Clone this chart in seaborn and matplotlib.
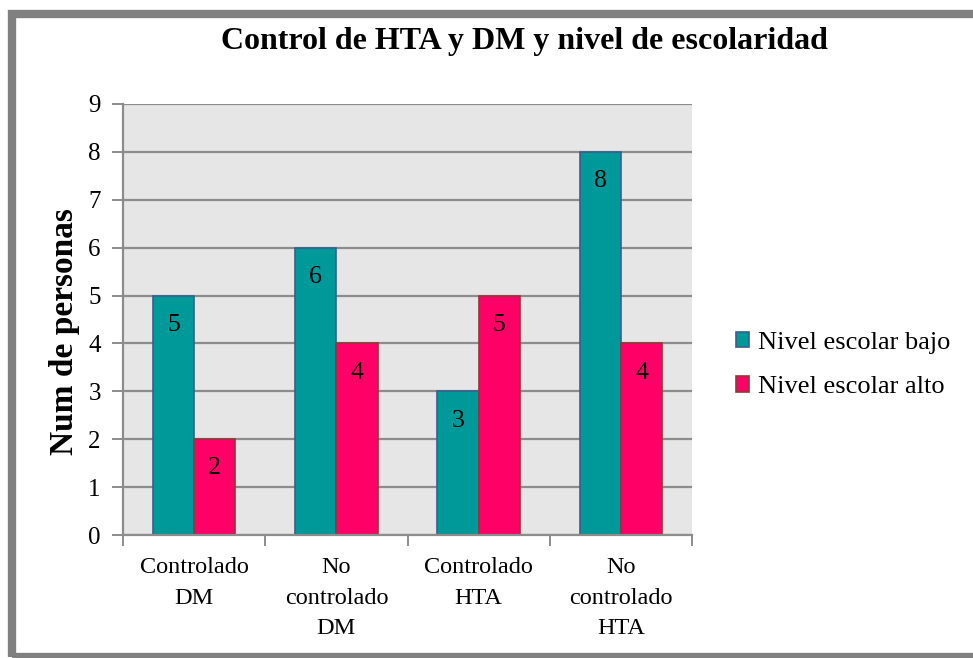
import matplotlib
matplotlib.use("Agg")
import matplotlib.pyplot as plt
import seaborn as sns
import pandas as pd
from matplotlib.patches import Rectangle, Patch

categories = ["Controlado\nDM", "No\ncontrolado\nDM", "Controlado\nHTA", "No\ncontrolado\nHTA"]
series_names = ["Nivel escolar bajo", "Nivel escolar alto"]
bajo = [5, 6, 3, 8]
alto = [2, 4, 5, 4]
yticks = list(range(0, 10))

title = "Control de HTA y DM y nivel de escolaridad"
ylabel = "Num de personas"

fill_colors = ["#009999", "#FF0066"]
edge_colors = ["#3B5E8C", "#8E3A3A"]

df = pd.DataFrame({
    "cat": categories * 2,
    "serie": [series_names[0]] * 4 + [series_names[1]] * 4,
    "val": bajo + alto,
})

sns.set_theme(style="white")
plt.rcParams["font.family"] = ["Liberation Serif", "DejaVu Serif"]
plt.rcParams["text.color"] = "black"
plt.rcParams["xtick.color"] = "black"
plt.rcParams["ytick.color"] = "black"
plt.rcParams["axes.labelcolor"] = "black"

fig = plt.figure(figsize=(9.73, 6.58), dpi=100)
ax = fig.add_axes([123 / 973, 1 - 535 / 658, (692 - 123) / 973, (535 - 104) / 658])

sns.barplot(data=df, x="cat", y="val", hue="serie", order=categories,
            hue_order=series_names, palette=fill_colors, width=0.58,
            saturation=1, ax=ax, legend=False, linewidth=1.2)

for cont, ec in zip(ax.containers, edge_colors):
    for p in cont:
        p.set_edgecolor(ec)
    ax.bar_label(cont, padding=-29, fontsize=18.5, color="black")

ax.set_facecolor("#E6E6E6")
ax.set_ylim(0, 9)
ax.set_xlim(-0.5, len(categories) - 0.5)
ax.set_yticks(yticks)
ax.set_yticklabels([str(t) for t in yticks], fontsize=18)
ax.yaxis.grid(True, color="#8C8C8C", linewidth=1.6)
ax.set_axisbelow(True)
ax.tick_params(axis="y", length=8, width=1.4, color="#8C8C8C", left=True, pad=8)

ax.set_xticks(range(len(categories)))
ax.set_xticklabels(categories, fontsize=17.5, linespacing=1.6)
ax.tick_params(axis="x", which="major", length=0, pad=16)
ax.set_xticks([i - 0.5 for i in range(len(categories) + 1)], minor=True)
ax.tick_params(axis="x", which="minor", length=8, width=1.4, color="#8C8C8C", bottom=True)

for s in ["top", "right"]:
    ax.spines[s].set_visible(False)
for s in ["left", "bottom"]:
    ax.spines[s].set_color("#8C8C8C")
    ax.spines[s].set_linewidth(1.6)

ax.set_xlabel("")
ax.set_ylabel(ylabel, fontsize=24, fontweight="bold")
ax.yaxis.set_label_coords((80 - 123) / 569, (535 - 332) / 431)

fig.text(524 / 973, 1 - 42 / 658, title, ha="center", va="center",
         fontsize=23, fontweight="bold")

handles = [Patch(facecolor=fc, edgecolor=ec, linewidth=1.2) for fc, ec in zip(fill_colors, edge_colors)]
fig.legend(handles, series_names, loc="center left", bbox_to_anchor=(712 / 973, 1 - 365 / 658),
           frameon=False, fontsize=19, handlelength=0.52, handleheight=0.52,
           handletextpad=0.33, labelspacing=0.85)

frame = Rectangle((12 / 973, 1.5 / 658), 1.2, 1 - 15 / 658, transform=fig.transFigure,
                  fill=False, edgecolor="#808080", linewidth=6, clip_on=False)
fig.patches.append(frame)

fig.savefig("out.png", dpi=100)
